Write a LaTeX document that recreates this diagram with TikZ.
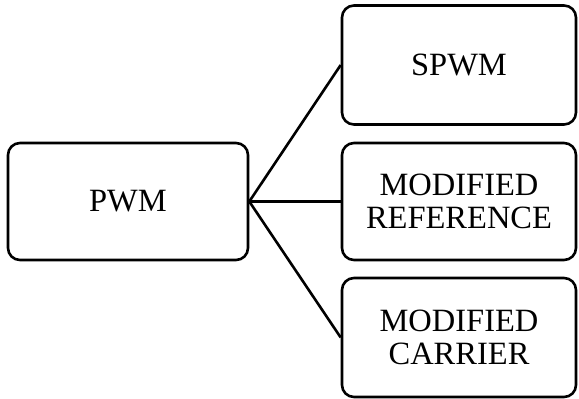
\documentclass[tikz,border=0pt]{standalone}
\usepackage{fontspec}
\setmainfont{Liberation Serif}
\begin{document}
\begin{tikzpicture}[x=1pt,y=-1pt,
  blk/.style={draw=black,line width=2.6pt,rounded corners=12pt,align=center,
    font=\fontsize{32.5}{33}\selectfont,inner sep=0pt},
  conn/.style={draw=black,line width=2.6pt}]
\useasboundingbox (0,0) rectangle (579,399);
\node[blk,minimum width=240pt,minimum height=117pt] (pwm) at (128,201.5) {PWM};
\node[blk,minimum width=234pt,minimum height=119pt] (spwm) at (459,65) {SPWM};
\node[blk,minimum width=234pt,minimum height=117pt] (mref) at (459,201.5) {MODIFIED\\REFERENCE};
\node[blk,minimum width=234pt,minimum height=119pt] (mcar) at (459,337.5) {MODIFIED\\CARRIER};
\draw[conn] (pwm.east) -- (spwm.west);
\draw[conn] (pwm.east) -- (mref.west);
\draw[conn] (pwm.east) -- (mcar.west);
\end{tikzpicture}
\end{document}
